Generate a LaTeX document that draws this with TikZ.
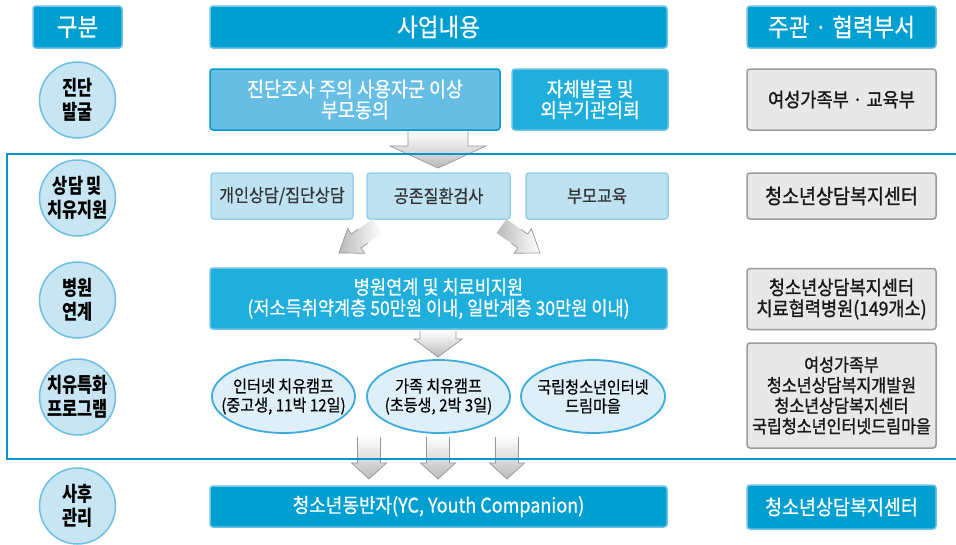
\documentclass[tikz,border=0pt]{standalone}
\usepackage{fontspec}
\setmainfont{Noto Sans CJK KR}[FakeStretch=0.9, FakeBold=0.5]
\newfontfamily\heavyfont{Noto Sans CJK KR}[FakeStretch=0.9, FakeBold=1.3]
\newfontfamily\circfont{Noto Sans CJK KR}[FakeStretch=0.8]
\usetikzlibrary{shapes.geometric}

\definecolor{hdr}{RGB}{0,159,209}
\definecolor{hdrline}{RGB}{110,195,230}
\definecolor{midblue}{RGB}{32,174,220}
\definecolor{lightmid}{RGB}{102,190,228}
\definecolor{darkline}{RGB}{0,155,205}
\definecolor{pale}{RGB}{190,226,242}
\definecolor{paleline}{RGB}{150,208,234}
\definecolor{circfill}{RGB}{200,229,243}
\definecolor{circline}{RGB}{110,190,225}
\definecolor{ellfill}{RGB}{222,239,248}
\definecolor{ellline}{RGB}{60,172,220}
\definecolor{grayfill}{RGB}{232,232,232}
\definecolor{grayline}{RGB}{155,155,155}
\definecolor{framec}{RGB}{0,150,204}
\definecolor{arrline}{RGB}{150,150,150}

\newcommand\blockdown[6]{%
  \shade[top color=white, bottom color=black!27]
    (#1-#5,#2) -- (#1+#5,#2) -- (#1+#5,#3) -- (#1+#6,#3) -- (#1,#4) -- (#1-#6,#3) -- (#1-#5,#3) -- cycle;
  \draw[arrline, line width=0.7pt, line join=miter]
    (#1-#5,#2) -- (#1-#5,#3) -- (#1-#6,#3) -- (#1,#4) -- (#1+#6,#3) -- (#1+#5,#3) -- (#1+#5,#2);
}

\tikzset{
  box/.style={rectangle, rounded corners=3pt, line width=1.5pt, align=center, inner sep=0pt, text=white},
  hdrbox/.style={box, fill=hdr, draw=hdrline, minimum height=42pt, font=\fontsize{25}{27}\selectfont},
  bluebox/.style={box, fill=midblue, draw=hdrline, font=\fontsize{20}{21}\selectfont},
  lightbox/.style={box, fill=lightmid, draw=darkline, font=\fontsize{20.5}{21}\selectfont},
  palebox/.style={box, fill=pale, draw=paleline, minimum height=46pt, text={black!80}, font=\fontsize{18}{20}\selectfont},
  graybox/.style={box, fill=grayfill, draw=grayline, minimum width=189pt, text={black!90}, font=\heavyfont\fontsize{19.5}{21}\selectfont},
  phase/.style={circle, minimum size=76pt, inner sep=0pt, fill=circfill, draw=circline, line width=1.5pt, align=center, font=\circfont\bfseries\fontsize{20.5}{24}\selectfont},
  camp/.style={ellipse, minimum width=143pt, minimum height=73pt, inner sep=0pt, fill=ellfill, draw=ellline, line width=1.8pt},
  camptext/.style={align=center, inner sep=0pt, font=\fontsize{16.8}{19}\selectfont},
}

\begin{document}
\begin{tikzpicture}[x=1pt,y=-1pt]
\useasboundingbox (0,0) rectangle (956,544);
\fill[white] (0,0) rectangle (956,544);

% headers
\node[hdrbox, minimum width=89pt] (h1) at (77.5,27) {구분};
\node[hdrbox, minimum width=457pt] (h2) at (438.5,27) {사업내용};
\node[hdrbox, minimum width=189pt] (h3) at (841.5,27) {주관 · 협력부서};

% phase circles
\node[phase] (c1) at (77.5,100) {진단\\발굴};
\node[phase] (c2) at (77.5,198) {상담 및\\치유지원};
\node[phase] (c3) at (77.5,300) {병원\\연계};
\node[phase] (c4) at (77.5,397) {치유특화\\프로그램};
\node[phase] (c5) at (77.5,506) {사후\\관리};

% row 1
\node[lightbox, minimum width=290pt, minimum height=61pt] (b1) at (355,99.5) {진단조사 주의 사용자군 이상\\부모동의};
\node[bluebox, minimum width=156pt, minimum height=61pt] (b2) at (590,99.5) {자체발굴 및\\외부기관의뢰};
\node[graybox, minimum height=61pt] (g1) at (841.5,99.5) {여성가족부 · 교육부};

% big arrow row1 -> row2
\blockdown{438}{131}{146}{168}{30}{48}

% row 2
\node[palebox, minimum width=142pt] (r1) at (282,196) {개인상담/집단상담};
\node[palebox, minimum width=143pt] (r2) at (438.5,196) {공존질환검사};
\node[palebox, minimum width=142pt] (r3) at (597,196) {부모교육};
\node[graybox, minimum height=46pt, font=\heavyfont\fontsize{20.5}{22}\selectfont] (g2) at (841.5,196) {청소년상담복지센터};

% diagonal arrows
\begin{scope}[shift={(339,253)}, rotate=35]
  \shade[left color=black!27, right color=white] (0,0) -- (21,15) -- (21,8.5) -- (47,8.5) -- (47,-8.5) -- (21,-8.5) -- (21,-15) -- cycle;
  \draw[arrline, line width=0.7pt] (29,8.5) -- (21,8.5) -- (21,15) -- (0,0) -- (21,-15) -- (21,-8.5) -- (29,-8.5);
\end{scope}
\begin{scope}[shift={(540,253)}, rotate=145]
  \shade[left color=black!27, right color=white] (0,0) -- (21,15) -- (21,8.5) -- (47,8.5) -- (47,-8.5) -- (21,-8.5) -- (21,-15) -- cycle;
  \draw[arrline, line width=0.7pt] (29,8.5) -- (21,8.5) -- (21,15) -- (0,0) -- (21,-15) -- (21,-8.5) -- (29,-8.5);
\end{scope}

% row 3
\node[bluebox, minimum width=457pt, minimum height=61pt, font=\fontsize{19.5}{21}\selectfont] (b3) at (438.5,298.5) {병원연계 및 치료비지원\\(저소득취약계층 50만원 이내, 일반계층 30만원 이내)};
\node[graybox, minimum height=61pt] (g3) at (841.5,299) {청소년상담복지센터\\치료협력병원(149개소)};

\blockdown{438}{331}{339}{357}{18}{24}

% row 4
\node[camp] (e1) at (283.5,396.5) {};
\node[camptext] (e1t) at (e1.center) {인터넷 치유캠프\\(중고생, 11박 12일)};
\node[camp] (e2) at (438.5,396.5) {};
\node[camptext] (e2t) at (e2.center) {가족 치유캠프\\(초등생, 2박 3일)};
\node[camp, minimum width=144pt] (e3) at (593,396.5) {};
\node[camptext] (e3t) at (e3.center) {국립청소년인터넷\\드림마을};
\node[graybox, minimum height=105pt, font=\heavyfont\fontsize{18}{20.5}\selectfont] (g4) at (841.5,395.5) {여성가족부\\청소년상담복지개발원\\청소년상담복지센터\\국립청소년인터넷드림마을};

% bottom arrows
\blockdown{369}{437}{463}{479}{11.5}{17.5}
\blockdown{438}{437}{463}{479}{11.5}{17.5}
\blockdown{507}{437}{463}{479}{11.5}{17.5}

% frame
\draw[framec, line width=2.5pt] (7,154) rectangle (990,459);

% row 5
\node[box, fill=hdr, draw=hdrline, minimum width=457pt, minimum height=41pt, font=\fontsize{20}{21}\selectfont] (b5) at (438.5,506.5) {청소년동반자(YC, Youth Companion)};
\node[box, fill=hdr, draw=hdrline, minimum width=189pt, minimum height=44pt, font=\fontsize{20.5}{22}\selectfont] (b6) at (841.5,507) {청소년상담복지센터};
\end{tikzpicture}
\end{document}
